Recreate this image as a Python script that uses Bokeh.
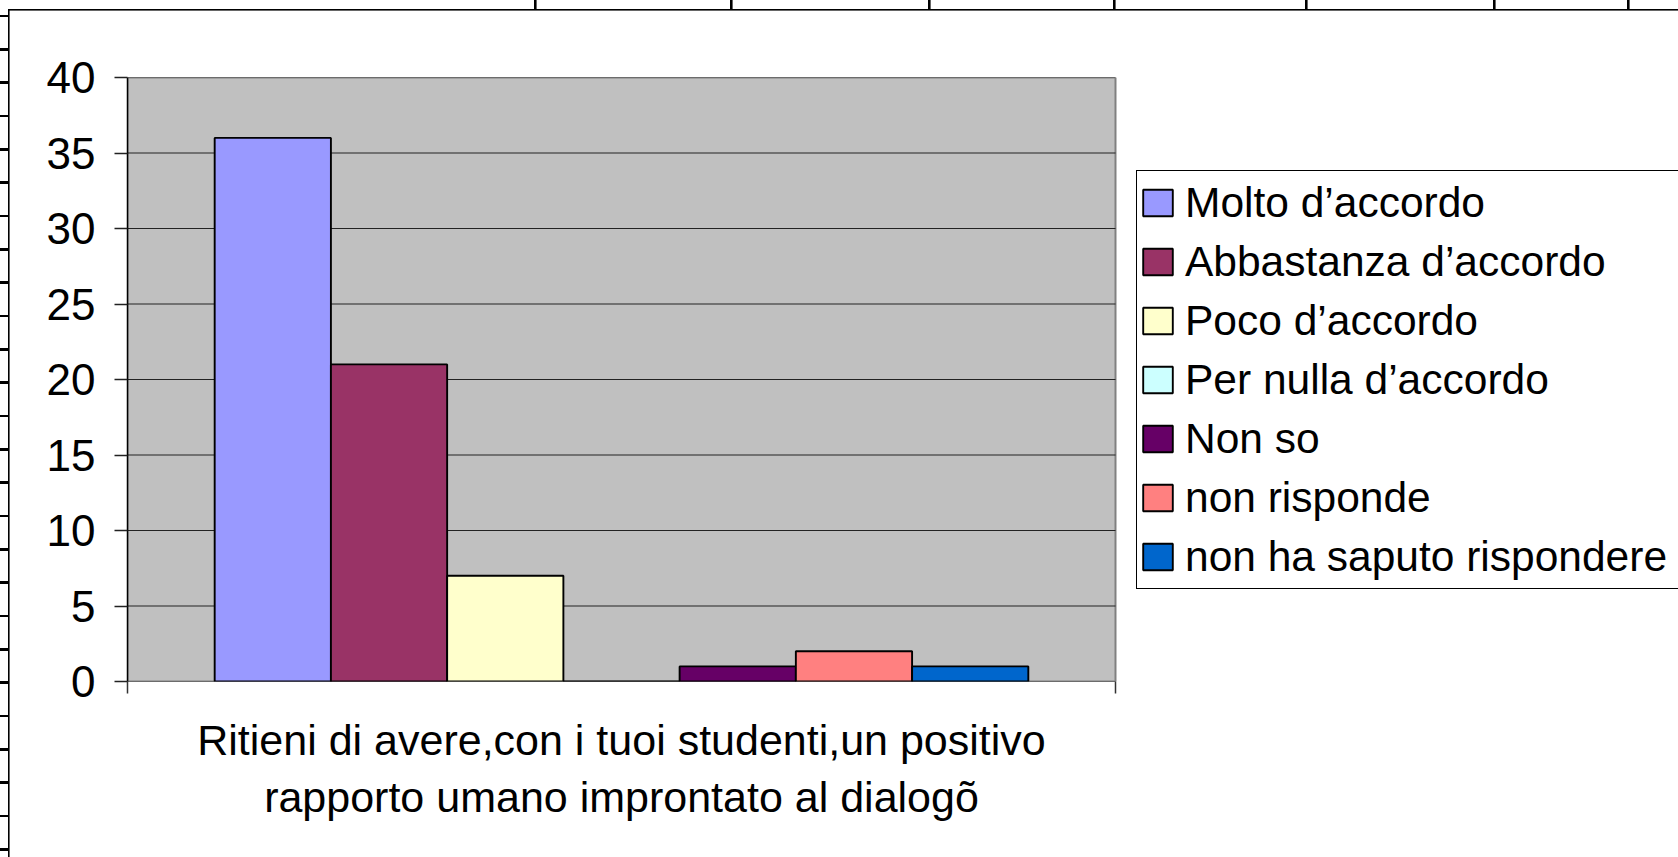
from bokeh.plotting import figure
from bokeh.models import Range1d, FixedTicker, Legend, LegendItem, ColumnDataSource
from bokeh.embed import file_html
from bokeh.resources import INLINE

# ---- data ----
series = ["Molto d\u2019accordo", "Abbastanza d\u2019accordo", "Poco d\u2019accordo",
          "Per nulla d\u2019accordo", "Non so", "non risponde", "non ha saputo rispondere"]
values = [36, 21, 7, 0, 1, 2, 1]
colors = ["#9999FF", "#993366", "#FFFFCC", "#CCFFFF", "#660066", "#FF8080", "#0066CC"]
category_lines = ["Ritieni di avere,con i tuoi studenti,un positivo",
                  "rapporto umano improntato al dialog\u00f5"]
y_ticks = [0, 5, 10, 15, 20, 25, 30, 35, 40]

FONT = "Liberation Sans"
gap = 1.5                      # Excel-style gap width (150%)
n = len(series)
span = n + gap                 # width of the single category, in data units

W, H = 1678, 857
LEFT, TOP, BOTTOM = 127, 77, 176
PLOT_AREA_W = 988              # pixel width of the grey plot area
frame_w = W - LEFT
x_end = span * frame_w / PLOT_AREA_W   # frame extends to the right for the legend

# worksheet decorations behind the chart (cell borders of the spreadsheet)
col_marks = [535, 731, 929, 1114, 1306, 1494, 1628]
layers = ["linear-gradient(#000,#000) 9px 9px / %dpx 1.6px no-repeat" % (W - 9),
          "linear-gradient(#000,#000) 8px 9px / 1.6px %dpx no-repeat" % (H - 9),
          "repeating-linear-gradient(to bottom, transparent 0px, transparent 14.7px, "
          "#000 14.7px, #000 17.3px, transparent 17.3px, transparent 33.33px) "
          "0px 0px / 9px 100% no-repeat"]
layers += ["linear-gradient(#000,#000) %dpx 0px / 2.6px 10px no-repeat" % (x - 1) for x in col_marks]

p = figure(width=W, height=H, x_range=Range1d(0, x_end), y_range=Range1d(0, 40),
           output_backend="svg", toolbar_location=None,
           min_border_left=LEFT, min_border_right=0, min_border_top=TOP, min_border_bottom=BOTTOM)
p.title.visible = False
p.background_fill_color = "white"
p.border_fill_color = None
p.outline_line_color = None
p.styles = {"background": ", ".join(layers) + ", white"}

# grey plot area
p.quad(left=[0], right=[span], bottom=[0], top=[40], fill_color="#C0C0C0",
       line_color="#808080", line_width=2)

# horizontal grid lines
p.segment(x0=[0] * len(y_ticks), x1=[span] * len(y_ticks), y0=y_ticks, y1=y_ticks,
          line_color="#222222", line_width=1.2)

# y axis
yax = p.yaxis[0]
yax.ticker = FixedTicker(ticks=y_ticks)
yax.major_label_text_font = FONT
yax.major_label_text_font_size = "44px"
yax.major_label_text_color = "black"
yax.major_tick_out = 13
yax.major_tick_in = 0
yax.minor_tick_out = 0
yax.minor_tick_in = 0
yax.major_label_standoff = 19
yax.axis_line_color = "black"
yax.axis_line_width = 1.5
yax.major_tick_line_color = "#222222"
yax.major_tick_line_width = 1.5

# x axis: one category label in the middle, boundary tick marks as minor ticks
xax = p.xaxis[0]
xax.ticker = FixedTicker(ticks=[span / 2], minor_ticks=[0, span])
xax.major_label_overrides = {span / 2: "\n".join(category_lines)}
xax.major_label_text_font = FONT
xax.major_label_text_font_size = "43px"
xax.major_label_text_color = "black"
xax.major_label_text_line_height = 1.2
xax.major_label_standoff = 22
xax.major_tick_out = 0
xax.major_tick_in = 0
xax.major_tick_line_color = None
xax.minor_tick_out = 12
xax.minor_tick_in = 0
xax.minor_tick_line_color = "#333333"
xax.minor_tick_line_width = 1.5
xax.axis_line_color = None

p.xgrid.visible = False
p.ygrid.visible = False

# bars
items = []
for i, (name, v, c) in enumerate(zip(series, values, colors)):
    src = ColumnDataSource(dict(x=[gap / 2 + i + 0.5], top=[v]))
    r = p.vbar(x="x", top="top", bottom=0, width=1.0, source=src,
               fill_color=c, line_color="black", line_width=1.9)
    items.append(LegendItem(label=name, renderers=[r]))

legend = Legend(items=items, location=(1009, 92), margin=0, padding=2,
                label_text_font=FONT, label_text_font_size="42.5px", label_text_color="black",
                glyph_width=37, glyph_height=33, label_height=59, spacing=0,
                label_standoff=9, label_width=500,
                border_line_color="black", border_line_width=1.3, border_line_alpha=1.0,
                background_fill_color="white", background_fill_alpha=1.0)
p.add_layout(legend)

open("out.html", "w").write(file_html(p, INLINE))
